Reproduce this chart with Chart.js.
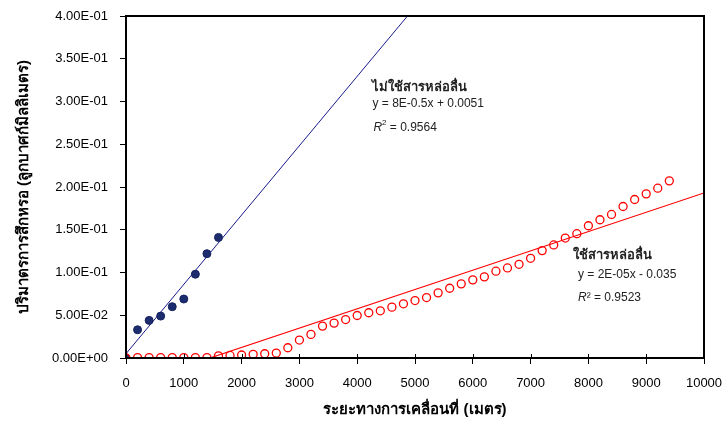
<!DOCTYPE html>
<html>
<head>
<meta charset="utf-8">
<script src="https://cdn.jsdelivr.net/npm/chart.js@4.4.1/dist/chart.umd.min.js"></script>
<style>
  html, body { margin: 0; padding: 0; background: #ffffff; }
  #wrap { width: 724px; height: 423px; position: relative; }
</style>
</head>
<body>
<div id="wrap"><canvas id="c" width="724" height="423"></canvas></div>
<script>
// ---- Data ----
const blueX = [0, 200, 400, 600, 800, 1000, 1200, 1400, 1600];
const blueY = [0, 0.033, 0.044, 0.049, 0.060, 0.069, 0.098, 0.122, 0.141];

const redX = [0, 200, 400, 600, 800, 1000, 1200, 1400, 1600, 1800,
  2000, 2200, 2400, 2600, 2800, 3000, 3200, 3400, 3600, 3800,
  4000, 4200, 4400, 4600, 4800, 5000, 5200, 5400, 5600, 5800,
  6000, 6200, 6400, 6600, 6800, 7000, 7200, 7400, 7600, 7800,
  8000, 8200, 8400, 8600, 8800, 9000, 9200, 9400];
const redY = [0, 0.0005, 0.0005, 0.0005, 0.0005, 0.0005, 0.0005, 0.0005, 0.0025, 0.003,
  0.0035, 0.0043, 0.005, 0.0058, 0.012, 0.021, 0.0276, 0.0373, 0.0408, 0.045,
  0.0497, 0.0529, 0.0552, 0.0595, 0.0634, 0.0672, 0.0707, 0.0762, 0.0816, 0.0867,
  0.0914, 0.0949, 0.1015, 0.1053, 0.1096, 0.1166, 0.1256, 0.1322, 0.1403, 0.1454,
  0.1547, 0.1617, 0.1679, 0.1772, 0.1854, 0.192, 0.1986, 0.2072];

const blueTrendX = [0, 4870];
const blueTrendY = [0.005, 0.4];
const redTrendX = [1450, 10000];
const redTrendY = [0, 0.193];

const xTicks = [0, 1000, 2000, 3000, 4000, 5000, 6000, 7000, 8000, 9000, 10000];
const xTickLabels = ['0', '1000', '2000', '3000', '4000', '5000', '6000', '7000', '8000', '9000', '10000'];
const yTicks = [0, 0.05, 0.1, 0.15, 0.2, 0.25, 0.3, 0.35, 0.4];

const xTitle = 'ระยะทางการเคลื่อนที่ (เมตร)';
const yTitle = 'ปริมาตรการสึกหรอ (ลูกบาศก์มิลลิเมตร)';

// annotation labels
const noteTexts = ['ไม่ใช้สารหล่อลื่น', 'y = 8E-0.5x + 0.0051', 'R2', 'ใช้สารหล่อลื่น', 'y = 2E-05x - 0.035', 'R²'];
const noteX = [4250, 4265, 4280, 7730, 7820, 7820];
const noteY = [0.316, 0.297, 0.269, 0.120, 0.098, 0.070];
const r2Values = ['', '', ' = 0.9564', '', '', ' = 0.9523'];

// ---- Helpers ----
function fmtExp(v) {
  if (v === 0) return '0.00E+00';
  const s = v.toExponential(2).toUpperCase();
  const [m, e] = s.split('E');
  const n = parseInt(e, 10);
  const sign = n < 0 ? '-' : '+';
  const a = Math.abs(n);
  return m + 'E' + sign + (a < 10 ? '0' + a : '' + a);
}
const FONT = "'Liberation Sans', Arial, sans-serif";

const framePlugin = {
  id: 'frame',
  afterDatasetsDraw(chart) {
    const { ctx, chartArea: a, scales } = chart;
    ctx.save();
    ctx.strokeStyle = '#000';
    ctx.lineWidth = 2;
    ctx.strokeRect(a.left, a.top, a.right - a.left, a.bottom - a.top);
    ctx.lineWidth = 1;
    xTicks.forEach(v => {
      const px = Math.round(scales.x.getPixelForValue(v)) + 0.5;
      ctx.beginPath();
      ctx.moveTo(px, a.bottom - 4);
      ctx.lineTo(px, a.bottom);
      ctx.stroke();
    });
    ctx.restore();
  },
  afterDraw(chart) {
    const { ctx, scales } = chart;
    ctx.save();
    ctx.fillStyle = '#222';
    ctx.textBaseline = 'middle';
    ctx.textAlign = 'left';
    noteTexts.forEach((t, i) => {
      const px = scales.x.getPixelForValue(noteX[i]);
      const py = scales.y.getPixelForValue(noteY[i]);
      if (i === 0 || i === 3) {
        ctx.font = "bold 13px " + FONT;
        ctx.fillText(t, px, py);
      } else if (i === 2 || i === 5) {
        ctx.font = "italic 12px " + FONT;
        ctx.fillText('R', px, py);
        let w = ctx.measureText('R').width;
        if (i === 2) {
          ctx.font = "8px " + FONT;
          ctx.fillText('2', px + w, py - 5);
          w += ctx.measureText('2').width;
        } else {
          ctx.font = "12px " + FONT;
          ctx.fillText('²', px + w, py);
          w += ctx.measureText('²').width;
        }
        ctx.font = "12px " + FONT;
        ctx.fillText(r2Values[i], px + w, py);
      } else {
        ctx.font = "12px " + FONT;
        ctx.fillText(t, px, py);
      }
    });
    ctx.restore();
  }
};

const toPts = (xs, ys) => xs.map((x, i) => ({ x: x, y: ys[i] }));

new Chart(document.getElementById('c'), {
  type: 'scatter',
  data: {
    datasets: [
      {
        label: 'ใช้สารหล่อลื่น',
        data: toPts(redX, redY),
        pointRadius: 4,
        pointBorderWidth: 1.3,
        borderColor: '#ff0000',
        backgroundColor: 'rgba(255,255,255,0)',
        order: 0
      },
      {
        label: 'ไม่ใช้สารหล่อลื่น',
        data: toPts(blueX, blueY),
        pointRadius: 4,
        pointBorderWidth: 1,
        borderColor: '#15235e',
        backgroundColor: '#1c2c6e',
        order: 1
      },
      {
        type: 'line',
        label: 'trend blue',
        data: toPts(blueTrendX, blueTrendY),
        borderColor: '#1a1a8c',
        borderWidth: 1,
        pointRadius: 0,
        fill: false,
        order: 2
      },
      {
        type: 'line',
        label: 'trend red',
        data: toPts(redTrendX, redTrendY),
        borderColor: '#ff0000',
        borderWidth: 1.2,
        pointRadius: 0,
        fill: false,
        order: 3
      }
    ]
  },
  options: {
    responsive: false,
    animation: false,
    layout: { padding: { top: 16, right: 20, left: 0, bottom: 0 } },
    plugins: { legend: { display: false }, tooltip: { enabled: false } },
    scales: {
      x: {
        type: 'linear',
        min: 0, max: 10000,
        afterBuildTicks: s => { s.ticks = xTicks.map(v => ({ value: v })); },
        afterFit: s => { s.height = 65; s.paddingLeft = 0; s.paddingRight = 0; },
        ticks: {
          color: '#000', font: { family: FONT, size: 13 }, padding: 12, maxRotation: 0, autoSkip: false,
          callback: (v) => { const i = xTicks.indexOf(v); return i >= 0 ? xTickLabels[i] : String(v); }
        },
        grid: { display: true, drawOnChartArea: false, drawTicks: true, tickLength: 6, color: '#000', lineWidth: 1 },
        border: { display: false },
        title: { display: true, text: xTitle, color: '#000', font: { family: FONT, size: 15, weight: 'bold' }, padding: { top: 0, bottom: 4 } }
      },
      y: {
        type: 'linear',
        min: 0, max: 0.4,
        afterBuildTicks: s => { s.ticks = yTicks.map(v => ({ value: v })); },
        afterFit: s => { s.width = 126; s.paddingTop = 0; s.paddingBottom = 0; },
        ticks: { color: '#000', font: { family: FONT, size: 13 }, padding: 12, callback: v => fmtExp(v), autoSkip: false },
        grid: { display: true, drawOnChartArea: false, drawTicks: true, tickLength: 6, color: '#000', lineWidth: 1 },
        border: { display: false },
        title: { display: true, text: yTitle, color: '#000', font: { family: FONT, size: 15, weight: 'bold' }, padding: { top: 15, bottom: 0 } }
      }
    }
  },
  plugins: [framePlugin]
});
</script>
</body>
</html>
